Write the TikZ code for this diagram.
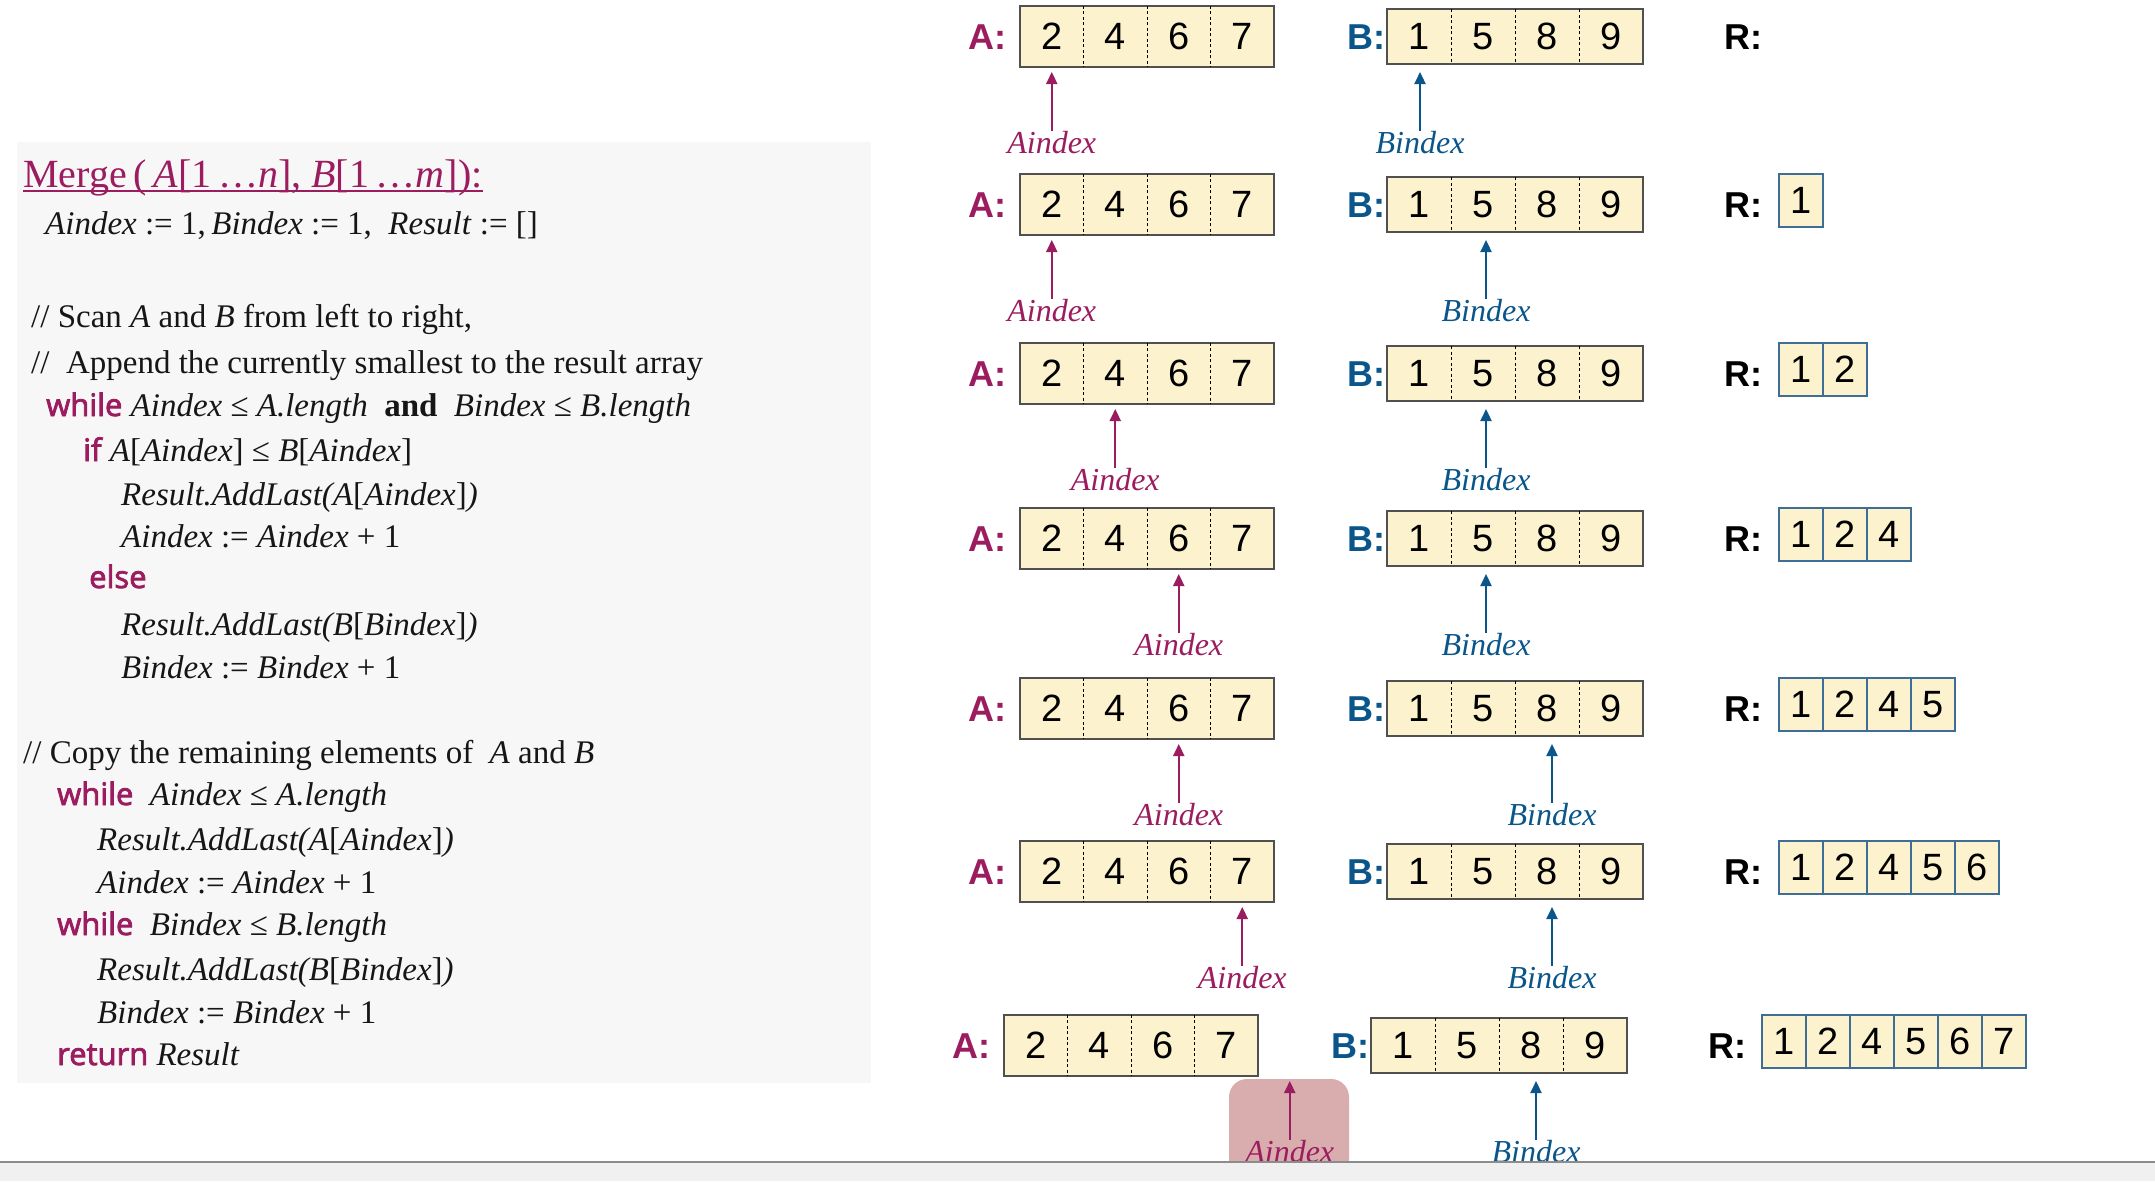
\documentclass[tikz,border=0pt]{standalone}
\usepackage{fontspec}
\setmainfont{Liberation Serif}
\newfontfamily\hvfont{Liberation Sans}
\newfontfamily\kwfont[BoldFont={Open Sans},BoldFeatures={FakeBold=2.5}]{Open Sans}
\usetikzlibrary{arrows.meta}
\definecolor{pur}{RGB}{155,28,95}
\definecolor{blu}{RGB}{10,85,138}
\definecolor{cellfill}{RGB}{253,242,206}
\definecolor{panelgray}{RGB}{247,247,247}
\definecolor{boxline}{RGB}{80,80,80}
\definecolor{rline}{RGB}{62,110,150}
\definecolor{hlred}{RGB}{217,173,173}
\definecolor{ink}{RGB}{22,22,22}
\definecolor{barfill}{RGB}{240,240,240}
\definecolor{barline}{RGB}{140,140,140}
\newcommand{\kwd}[1]{{\kwfont\bfseries\fontsize{31}{36}\selectfont\color{pur}#1}}
\begin{document}
\begin{tikzpicture}[x=1pt,y=-1pt,
  code/.style={anchor=base west, inner sep=0pt, text=ink, font=\fontsize{33}{40}\selectfont},
  titlestyle/.style={anchor=base west, inner sep=0pt, text=pur, font=\fontsize{40}{48}\selectfont},
  albl/.style={inner sep=0pt, font=\hvfont\bfseries\fontsize{36}{40}\selectfont},
  acell/.style={inner sep=0pt, minimum width=63.5pt, minimum height=61pt, fill=cellfill, text=black, font=\hvfont\fontsize{38}{40}\selectfont},
  bcell/.style={acell, minimum width=64pt, minimum height=54pt},
  rcell/.style={inner sep=0pt, minimum width=44pt, minimum height=53pt, fill=cellfill, draw=rline, line width=1.4pt, text=black, font=\hvfont\fontsize{38}{40}\selectfont},
  abox/.style={draw=boxline, line width=1.8pt},
  divider/.style={draw=black, line width=1.1pt, dash pattern=on 3pt off 2.5pt},
  ilbl/.style={anchor=base, inner sep=0pt, font=\itshape\fontsize{32}{36}\selectfont},
  arrA/.style={draw=pur, line width=2.2pt, -{Triangle[length=12pt,width=11pt]}},
  arrB/.style={draw=blu, line width=2.2pt, -{Triangle[length=12pt,width=11pt]}}
]
\useasboundingbox (0,0) rectangle (2155,1181);
\fill[white] (0,0) rectangle (2155,1181);

% pseudocode panel
\fill[panelgray] (16.5,141.5) rectangle (871,1083);
\node[titlestyle] (title) at (23,187) {Merge\,(\,\textit{A}[1\,…\textit{n}], \textit{B}[1\,…\textit{m}]):};
\draw[pur, line width=2pt] ([yshift=-4pt]title.base west) -- ([yshift=-4pt]title.base east);
\node[code] (l1) at (45,234) {\textit{Aindex} := 1,\,\textit{Bindex} := 1,\enspace\textit{Result} := []};
\node[code] (l2) at (31,327) {// Scan \textit{A} and \textit{B} from left to right,};
\node[code] (l3) at (31,373) {//\enspace Append the currently smallest to the result array};
\node[code] (l4) at (46,416) {\kwd{while} \textit{Aindex} ≤ \textit{A.length}\enspace\textbf{and}\enspace\textit{Bindex} ≤ \textit{B.length}};
\node[code] (l5) at (83,461) {\kwd{if} \textit{A}[\textit{Aindex}] ≤ \textit{B}[\textit{Aindex}]};
\node[code] (l6) at (121,505) {\textit{Result.AddLast(A}[\textit{Aindex}]\textit{)}};
\node[code] (l7) at (121,547) {\textit{Aindex} := \textit{Aindex} + 1};
\node[code] (l8) at (89,588) {\kwd{else}};
\node[code] (l9) at (121,635) {\textit{Result.AddLast(B}[\textit{Bindex}]\textit{)}};
\node[code] (l10) at (121,678) {\textit{Bindex} := \textit{Bindex} + 1};
\node[code] (l11) at (23,763) {// Copy the remaining elements of\enspace\textit{A} and \textit{B}};
\node[code] (l12) at (57,805) {\kwd{while}\enspace\textit{Aindex} ≤ \textit{A.length}};
\node[code] (l13) at (97,850) {\textit{Result.AddLast(A}[\textit{Aindex}]\textit{)}};
\node[code] (l14) at (97,893) {\textit{Aindex} := \textit{Aindex} + 1};
\node[code] (l15) at (57,935) {\kwd{while}\enspace\textit{Bindex} ≤ \textit{B.length}};
\node[code] (l16) at (97,980) {\textit{Result.AddLast(B}[\textit{Bindex}]\textit{)}};
\node[code] (l17) at (97,1023) {\textit{Bindex} := \textit{Bindex} + 1};
\node[code] (l18) at (57,1065) {\kwd{return} \textit{Result}};

% highlight of the last Aindex
\fill[hlred, rounded corners=18pt] (1229,1079) rectangle (1349,1178);

% arrays A and B with index arrows
\foreach \r/\t/\o/\ai/\bi in {1/6/0/1/1, 2/174/0/1/2, 3/343/0/2/2, 4/508/0/3/2, 5/678/0/3/3, 6/841/0/4/3, 7/1015/-16/5/3} {
  \node[albl, text=pur, anchor=east] (LA\r) at ({1007+(\o)}, {\t+31}) {A:};
  \foreach \v [count=\c] in {2,4,6,7}
    \node[acell] (A\r-\c) at ({1020+(\o)+63.5*(\c-0.5)}, {\t+30.5}) {\v};
  \draw[abox] (A\r-1.north west) rectangle (A\r-4.south east);
  \foreach \c in {1,2,3}
    \draw[divider] (A\r-\c.north east) -- (A\r-\c.south east);
  \node[albl, text=blu, anchor=east] (LB\r) at ({1386+(\o)}, {\t+31}) {B:};
  \foreach \v [count=\c] in {1,5,8,9}
    \node[bcell] (B\r-\c) at ({1387+(\o)+64*(\c-0.5)}, {\t+30.5}) {\v};
  \draw[abox] (B\r-1.north west) rectangle (B\r-4.south east);
  \foreach \c in {1,2,3}
    \draw[divider] (B\r-\c.north east) -- (B\r-\c.south east);
  \node[albl, text=black, anchor=west] (LR\r) at ({1724+(\o)}, {\t+31}) {R:};
  % index arrows
  \coordinate (at\r) at ({1020+(\o)+63.5*(\ai-0.5)}, {\t+66});
  \node[ilbl, text=pur] (ai\r) at ({1020+(\o)+63.5*(\ai-0.5)}, {\t+147}) {Aindex};
  \draw[arrA] (ai\r.north) -- (at\r);
  \coordinate (bt\r) at ({1387+(\o)+64*(\bi-0.5)+1+2*(\bi-1)}, {\t+66});
  \node[ilbl, text=blu] (bi\r) at ({1387+(\o)+64*(\bi-0.5)+1+2*(\bi-1)}, {\t+147}) {Bindex};
  \draw[arrB] (bi\r.north) -- (bt\r);
}

% result arrays
\foreach \v [count=\c] in {1}
  \node[rcell] (R2-\c) at ({1779+44*(\c-0.5)}, 200.5) {\v};
\foreach \v [count=\c] in {1,2}
  \node[rcell] (R3-\c) at ({1779+44*(\c-0.5)}, 369.5) {\v};
\foreach \v [count=\c] in {1,2,4}
  \node[rcell] (R4-\c) at ({1779+44*(\c-0.5)}, 534.5) {\v};
\foreach \v [count=\c] in {1,2,4,5}
  \node[rcell] (R5-\c) at ({1779+44*(\c-0.5)}, 704.5) {\v};
\foreach \v [count=\c] in {1,2,4,5,6}
  \node[rcell] (R6-\c) at ({1779+44*(\c-0.5)}, 867.5) {\v};
\foreach \v [count=\c] in {1,2,4,5,6,7}
  \node[rcell] (R7-\c) at ({1762+44*(\c-0.5)}, 1041.5) {\v};

% bottom bar
\fill[barfill] (0,1162) rectangle (2155,1181);
\draw[barline, line width=2.5pt] (0,1162) -- (2155,1162);
\end{tikzpicture}
\end{document}
